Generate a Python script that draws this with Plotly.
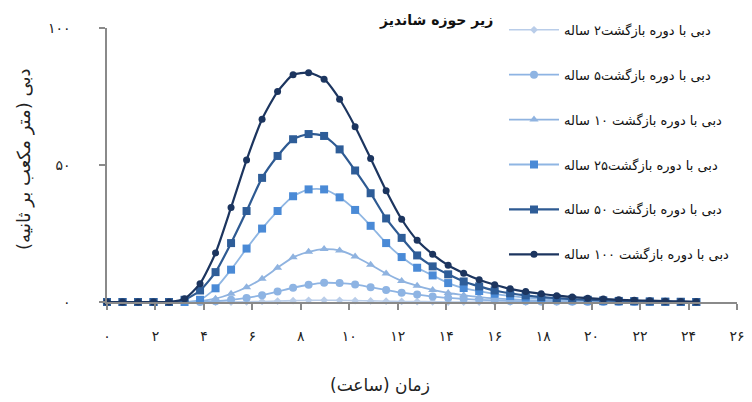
import plotly.graph_objects as go

hours = [0, 0.64, 1.28, 1.92, 2.56, 3.2, 3.84, 4.48, 5.12, 5.76, 6.4, 7.04, 7.68,
         8.32, 8.96, 9.6, 10.24, 10.88, 11.52, 12.16, 12.8, 13.44, 14.08, 14.72,
         15.36, 16.0, 16.64, 17.28, 17.92, 18.56, 19.2, 19.84, 20.48, 21.12,
         21.76, 22.4, 23.04, 23.68, 24.32]

q2 = [0, 0, 0, 0, 0, 0, 0, 0, 0, 0.1, 0.2, 0.35, 0.5, 0.6, 0.65, 0.6, 0.5, 0.4,
      0.3, 0.2, 0.15, 0.1, 0, 0, 0, 0, 0, 0, 0, 0, 0, 0, 0, 0, 0, 0, 0, 0, 0]
q5 = [0, 0, 0, 0, 0, 0, 0, 0.3, 0.8, 1.5, 2.5, 3.8, 5.2, 6.3, 7.0, 6.9, 6.4, 5.4,
      4.4, 3.4, 2.7, 2.0, 1.5, 1.1, 0.8, 0.6, 0.4, 0.3, 0.2, 0.15, 0.1, 0, 0, 0,
      0, 0, 0, 0, 0]
q10 = [0, 0, 0, 0, 0, 0, 0.3, 1.2, 3.0, 5.4, 8.5, 12.5, 16.3, 18.3, 19.3, 18.8,
       16.6, 13.6, 10.4, 7.7, 5.9, 4.4, 3.3, 2.5, 1.8, 1.3, 1.0, 0.7, 0.5, 0.4,
       0.3, 0.2, 0.1, 0.1, 0, 0, 0, 0, 0]
q25 = [0, 0, 0, 0, 0, 0, 0.8, 5.0, 11.8, 19.5, 26.8, 33.2, 38.6, 41.1, 41.1,
       38.2, 33.6, 27.8, 21.5, 16.4, 12.5, 9.7, 6.9, 5.1, 4.0, 3.0, 2.2, 1.6,
       1.2, 0.9, 0.6, 0.5, 0.3, 0.2, 0.2, 0.1, 0.1, 0, 0]
q50 = [0, 0, 0, 0, 0, 0.8, 4.2, 10.9, 21.5, 33.2, 45.3, 53.3, 59.4, 61.3, 60.6,
       55.7, 48.0, 39.7, 30.5, 23.4, 17.0, 13.0, 10.1, 7.5, 5.7, 4.2, 3.2, 2.4,
       1.8, 1.4, 1.0, 0.8, 0.6, 0.4, 0.3, 0.2, 0.1, 0.1, 0]
q100 = [0, 0, 0, 0, 0, 1.2, 6.7, 17.9, 34.5, 51.8, 66.7, 76.8, 82.9, 83.7, 81.3,
        74.0, 64.0, 52.4, 40.6, 30.2, 22.5, 17.4, 13.4, 10.5, 8.1, 6.3, 4.8, 3.8,
        3.0, 2.3, 1.8, 1.4, 1.1, 0.8, 0.6, 0.5, 0.3, 0.2, 0.1]

names = ["دبی با دوره بازگشت۲ ساله", "دبی با دوره بازگشت۵ ساله",
         "دبی با دوره بازگشت ۱۰ ساله", "دبی با دوره بازگشت۲۵ ساله",
         "دبی با دوره بازگشت ۵۰ ساله", "دبی با دوره بازگشت ۱۰۰ ساله"]
x_ticks = [0, 2, 4, 6, 8, 10, 12, 14, 16, 18, 20, 22, 24, 26]
x_tick_text = ["۰", "۲", "۴", "۶", "۸", "۱۰", "۱۲", "۱۴", "۱۶", "۱۸", "۲۰", "۲۲", "۲۴", "۲۶"]
y_ticks = [0, 50, 100]
y_tick_text = ["۰", "۵۰", "۱۰۰"]
title_text = "زیر حوزه شاندیز"
x_title = "زمان (ساعت)"
y_title = "دبی (متر مکعب بر ثانیه)"

series = [q2, q5, q10, q25, q50, q100]
line_colors = ["#b9cde9", "#8eb4e3", "#8fb3e0", "#8fb6e3", "#2e5a92", "#1c355f"]
marker_colors = ["#b9cde9", "#8eb4e3", "#8fb3e0", "#4a8ad6", "#2e5d98", "#1c355f"]
symbols = ["diamond", "circle", "triangle-up", "square", "square", "circle"]
sizes = [6, 8, 8, 8, 8, 7]
widths = [1.6, 1.8, 1.8, 1.8, 2.2, 2.2]

font_fa = "DejaVu Sans"

fig = go.Figure()
for i, (ys, nm) in enumerate(zip(series, names)):
    fig.add_trace(go.Scatter(
        x=hours, y=ys, name=nm, mode="lines+markers",
        line=dict(color=line_colors[i], width=widths[i], shape="spline", smoothing=0.6),
        marker=dict(symbol=symbols[i], size=sizes[i], color=marker_colors[i]),
        cliponaxis=False, legendgroup=str(i),
    ))

axis_col = "#8a8a8a"
fig.update_layout(
    width=752, height=402,
    margin=dict(l=107, r=15, t=28, b=100, autoexpand=False),
    paper_bgcolor="white", plot_bgcolor="white",
    showlegend=True,
    legend=dict(x=(504 - 107) / 630, y=1.048, xanchor="left", yanchor="top",
                font=dict(family=font_fa, size=13, color="#111"),
                bgcolor="rgba(0,0,0,0)", tracegroupgap=25, itemwidth=50,
                maxheight=380),
    xaxis=dict(range=[0, 26], tickvals=x_ticks, ticktext=x_tick_text,
               showgrid=False, zeroline=False, showline=True, linecolor=axis_col,
               linewidth=1.5, ticks="outside", ticklen=6, tickcolor=axis_col,
               tickwidth=1.5, ticklabelstandoff=14, automargin=False,
               tickfont=dict(family=font_fa, size=14, color="#222")),
    yaxis=dict(range=[0, 100], tickvals=y_ticks, ticktext=y_tick_text,
               showgrid=False, zeroline=False, showline=True, linecolor=axis_col,
               linewidth=1.5, ticks="outside", ticklen=6, tickcolor=axis_col,
               tickwidth=1.5, ticklabelstandoff=26, automargin=False,
               tickfont=dict(family=font_fa, size=14, color="#222")),
    annotations=[
        dict(text="<b>" + title_text + "</b>", xref="paper", yref="paper",
             x=(436 - 107) / 630, y=(302 - 20) / 274, xanchor="center",
             yanchor="middle", showarrow=False,
             font=dict(family=font_fa, size=14, color="#111")),
        dict(text=x_title, xref="paper", yref="paper",
             x=(380 - 107) / 630, y=-(385 - 302) / 274, xanchor="center",
             yanchor="middle", showarrow=False,
             font=dict(family=font_fa, size=17, color="#222")),
        dict(text=y_title, xref="paper", yref="paper",
             x=-(107 - 24) / 630, y=(302 - 160) / 274, xanchor="center",
             yanchor="middle", showarrow=False, textangle=-90,
             font=dict(family=font_fa, size=18, color="#222")),
    ],
)

fig.write_html("out.html", config={"displayModeBar": False},
               post_script="document.body.style.margin='0px';")
